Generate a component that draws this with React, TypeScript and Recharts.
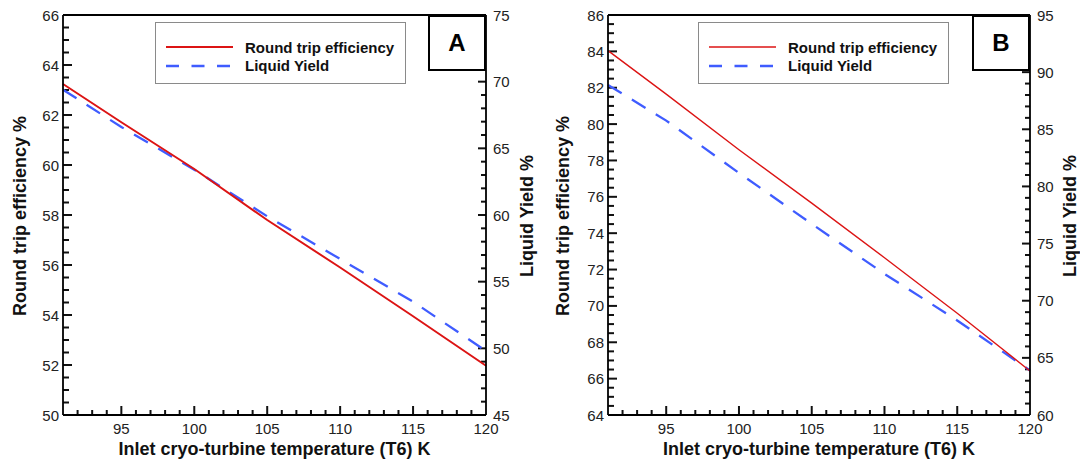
import React from "react";
import { Label, Legend, Line, LineChart, ReferenceLine, XAxis, YAxis } from "recharts";

// inlet cryo-turbine temperature (T6), K
const temps = [91, 95, 100, 105, 110, 115, 120];

// case A
const rteA = [63.24, 61.71, 59.84, 57.8, 55.9, 53.95, 51.97];
const yieldA = [69.4, 66.6, 63.4, 59.9, 56.7, 53.5, 49.8];

// case B
const rteB = [84.04, 81.65, 78.59, 75.65, 72.65, 69.6, 66.42];
const yieldB = [88.88, 85.76, 81.18, 76.72, 72.35, 68.27, 63.9];

const xMajor = [95, 100, 105, 110, 115, 120];
const leftMajorA = [50, 52, 54, 56, 58, 60, 62, 64, 66];
const rightMajorA = [45, 50, 55, 60, 65, 70, 75];
const leftMajorB = [64, 66, 68, 70, 72, 74, 76, 78, 80, 82, 84, 86];
const rightMajorB = [60, 65, 70, 75, 80, 85, 90, 95];

const FONT = "'Liberation Sans', Arial, Helvetica, sans-serif";
const RED = "#dc1414";
const BLUE = "#3f5cff";
const X_DOMAIN: [number, number] = [91, 120];
const W = 540;
const H = 461;
const TOP = 15;
const X_AXIS_H = 46;
const AXIS_LINE = { stroke: "#000", strokeWidth: 1.8 };

// minor + major tick positions between two bounds
function steps(lo: number, hi: number, step: number) {
  const out: number[] = [];
  const n = Math.round((hi - lo) / step);
  for (let i = 0; i <= n; i++) out.push(+(lo + i * step).toFixed(3));
  return out;
}

const isMajor = (v: number, majors: number[]) => majors.some((m) => Math.abs(m - v) < 1e-6);

// tick labels only; the inward tick marks are reference segments
function BottomLabel(props: any) {
  return (
    <text x={props.x} y={Number(props.y) + 13} textAnchor="middle" dominantBaseline="central" fontFamily={FONT} fontSize={15} fill="#222">
      {props.payload.value}
    </text>
  );
}

function LeftLabel(props: any) {
  return (
    <text x={Number(props.x) - 4} y={props.y} textAnchor="end" dominantBaseline="central" fontFamily={FONT} fontSize={15} fill="#222">
      {props.payload.value}
    </text>
  );
}

function RightLabel(props: any) {
  return (
    <text x={Number(props.x) + 7} y={props.y} textAnchor="start" dominantBaseline="central" fontFamily={FONT} fontSize={15} fill="#222">
      {props.payload.value}
    </text>
  );
}

const series = [
  { key: "rte", name: "Round trip efficiency", color: RED, dash: undefined as string | undefined },
  { key: "yld", name: "Liquid Yield", color: BLUE, dash: "13 12.5" },
];

function LegendBox({ payload, redWidth }: any) {
  const order = series.map((s) => s.key);
  const items = [...(payload ?? [])].sort((a: any, b: any) => order.indexOf(a.dataKey) - order.indexOf(b.dataKey));
  return (
    <div
      style={{
        width: 251,
        height: 62,
        boxSizing: "border-box",
        border: "1.5px solid #8a8a8a",
        background: "#fff",
        position: "relative",
      }}
    >
      {items.map((it: any, i: number) => {
        const s = series.find((q) => q.key === it.dataKey)!;
        return (
          <div
            key={it.dataKey}
            style={{ position: "absolute", left: 10, top: 15 + i * 18.5, height: 18, display: "flex", alignItems: "center" }}
          >
            <svg width={67} height={6}>
              <line
                x1={0}
                x2={67}
                y1={3}
                y2={3}
                stroke={it.color}
                strokeWidth={s.dash ? 2.6 : redWidth}
                strokeDasharray={s.dash}
              />
            </svg>
            <span style={{ marginLeft: 12, font: `bold 15px ${FONT}`, color: "#111", whiteSpace: "nowrap" }}>{it.value}</span>
          </div>
        );
      })}
    </div>
  );
}

type PanelProps = {
  tag: string;
  rte: number[];
  yld: number[];
  leftDomain: [number, number];
  leftMajor: number[];
  rightDomain: [number, number];
  rightMajor: number[];
  leftWidth: number;
  rightWidth: number;
  redWidth: number;
  legendLeft: number;
  leftTitleX: number;
  rightTitleX: number;
};

function Panel(p: PanelProps) {
  const data = temps.map((t, i) => ({ t, rte: p.rte[i], yld: p.yld[i] }));
  const plotRight = W - p.rightWidth;
  const plotW = plotRight - p.leftWidth;
  const plotH = H - TOP - X_AXIS_H;

  // tick lengths in px turned into data units for each axis
  const xPer = (px: number) => (px * (X_DOMAIN[1] - X_DOMAIN[0])) / plotW;
  const lPer = (px: number) => (px * (p.leftDomain[1] - p.leftDomain[0])) / plotH;

  const xTicks = steps(92, 119, 1);
  const lTicks = steps(p.leftDomain[0] + 0.5, p.leftDomain[1] - 0.5, 0.5);
  const rTicks = steps(p.rightDomain[0] + 1, p.rightDomain[1] - 1, 1);

  const yTitle = (text: string, cx: number) => (lp: any) => {
    const vb = lp.viewBox ?? { y: TOP, height: plotH };
    const cy = vb.y + vb.height / 2 + 1;
    return (
      <text
        x={cx}
        y={cy}
        transform={`rotate(-90 ${cx} ${cy})`}
        textAnchor="middle"
        dominantBaseline="central"
        fontFamily={FONT}
        fontWeight="bold"
        fontSize={18}
        fill="#111"
      >
        {text}
      </text>
    );
  };

  const xTitle = (lp: any) => {
    const vb = lp.viewBox ?? { x: p.leftWidth, width: plotW };
    const cx = vb.x + vb.width / 2;
    return (
      <text x={cx} y={449} textAnchor="middle" dominantBaseline="central" fontFamily={FONT} fontWeight="bold" fontSize={18} fill="#111">
        Inlet cryo-turbine temperature (T6) K
      </text>
    );
  };

  return (
    <div style={{ position: "relative", width: W, height: H }}>
      <LineChart width={W} height={H} data={data} margin={{ top: TOP, right: 0, bottom: 0, left: 0 }}>
        <XAxis
          dataKey="t"
          type="number"
          domain={X_DOMAIN}
          ticks={xMajor}
          interval={0}
          height={X_AXIS_H}
          tickSize={0}
          tickMargin={0}
          tickLine={false}
          axisLine={AXIS_LINE}
          tick={(tp: any) => <BottomLabel {...tp} />}
        >
          <Label content={xTitle} />
        </XAxis>
        <YAxis
          yAxisId="left"
          orientation="left"
          width={p.leftWidth}
          domain={p.leftDomain}
          ticks={p.leftMajor}
          interval={0}
          tickSize={0}
          tickMargin={0}
          tickLine={false}
          axisLine={AXIS_LINE}
          tick={(tp: any) => <LeftLabel {...tp} />}
        >
          <Label content={yTitle("Round trip efficiency %", p.leftTitleX)} />
        </YAxis>
        <YAxis
          yAxisId="right"
          orientation="right"
          width={p.rightWidth}
          domain={p.rightDomain}
          ticks={p.rightMajor}
          interval={0}
          tickSize={0}
          tickMargin={0}
          tickLine={false}
          axisLine={AXIS_LINE}
          tick={(tp: any) => <RightLabel {...tp} />}
        >
          <Label content={yTitle("Liquid Yield %", p.rightTitleX)} />
        </YAxis>
        <ReferenceLine yAxisId="left" y={p.leftDomain[1]} stroke="#000" strokeWidth={1.8} />

        {/* inward tick marks: bottom, left, right */}
        {xTicks.map((v) => (
          <ReferenceLine
            key={`xt${v}`}
            yAxisId="left"
            segment={[
              { x: v, y: p.leftDomain[0] },
              { x: v, y: p.leftDomain[0] + lPer(isMajor(v, xMajor) ? 9 : 5) },
            ]}
            stroke="#111"
            strokeWidth={2}
            ifOverflow="visible"
          />
        ))}
        {lTicks.map((v) => (
          <ReferenceLine
            key={`lt${v}`}
            yAxisId="left"
            segment={[
              { x: X_DOMAIN[0], y: v },
              { x: X_DOMAIN[0] + xPer(isMajor(v, p.leftMajor) ? 9 : 6), y: v },
            ]}
            stroke="#111"
            strokeWidth={2}
            ifOverflow="visible"
          />
        ))}
        {rTicks.map((v) => (
          <ReferenceLine
            key={`rt${v}`}
            yAxisId="right"
            segment={[
              { x: X_DOMAIN[1] - xPer(isMajor(v, p.rightMajor) ? 8 : 5), y: v },
              { x: X_DOMAIN[1], y: v },
            ]}
            stroke="#111"
            strokeWidth={2}
            ifOverflow="visible"
          />
        ))}

        <Line
          yAxisId="right"
          dataKey="yld"
          name="Liquid Yield"
          type="linear"
          stroke={BLUE}
          strokeWidth={2.3}
          strokeDasharray="16 12"
          dot={false}
          activeDot={false}
          isAnimationActive={false}
        />
        <Line
          yAxisId="left"
          dataKey="rte"
          name="Round trip efficiency"
          type="linear"
          stroke={RED}
          strokeWidth={p.redWidth}
          dot={false}
          activeDot={false}
          isAnimationActive={false}
        />
        <Legend
          layout="horizontal"
          verticalAlign="middle"
          align="center"
          wrapperStyle={{ left: p.legendLeft, top: 22, width: 251, height: 62 }}
          content={(lp: any) => <LegendBox {...lp} redWidth={p.redWidth} />}
        />
      </LineChart>
      <div
        style={{
          position: "absolute",
          left: plotRight - 58,
          top: TOP,
          width: 58,
          height: 56,
          boxSizing: "border-box",
          border: "2px solid #000",
          background: "#fff",
          display: "flex",
          alignItems: "center",
          justifyContent: "center",
          font: `bold 24px ${FONT}`,
          color: "#000",
          zIndex: 5,
        }}
      >
        {p.tag}
      </div>
    </div>
  );
}

export default function App() {
  return (
    <div style={{ position: "absolute", left: 0, top: 0, width: 1080, height: 461, background: "#fff", display: "flex" }}>
      <Panel
        tag="A"
        rte={rteA}
        yld={yieldA}
        leftDomain={[50, 66]}
        leftMajor={leftMajorA}
        rightDomain={[45, 75]}
        rightMajor={rightMajorA}
        leftWidth={63}
        rightWidth={54}
        redWidth={2}
        legendLeft={155}
        leftTitleX={20}
        rightTitleX={527}
      />
      <Panel
        tag="B"
        rte={rteB}
        yld={yieldB}
        leftDomain={[64, 86]}
        leftMajor={leftMajorB}
        rightDomain={[60, 95]}
        rightMajor={rightMajorB}
        leftWidth={68}
        rightWidth={50}
        redWidth={1.4}
        legendLeft={158}
        leftTitleX={23}
        rightTitleX={530}
      />
    </div>
  );
}
